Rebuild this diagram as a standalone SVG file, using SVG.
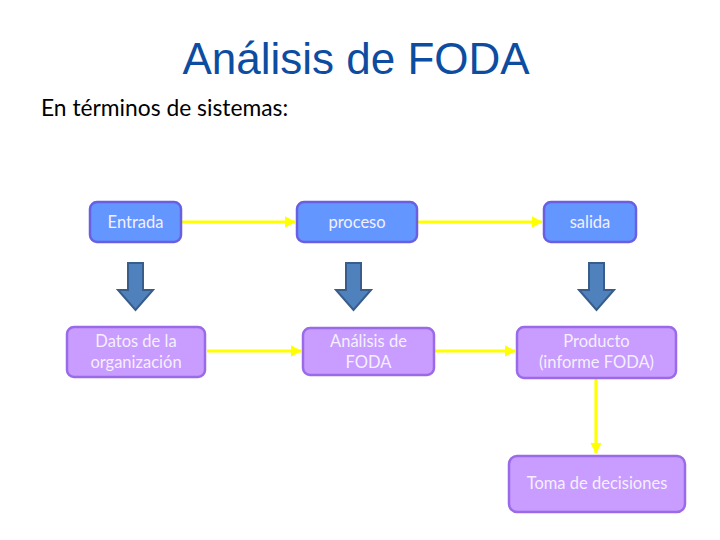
<svg xmlns="http://www.w3.org/2000/svg" width="720" height="540" viewBox="0 0 720 540">
<style>
.title{font-family:"Liberation Sans",Arial,sans-serif;font-size:44px;fill:#0d4da1;text-anchor:middle}
.sub{font-family:Lato,"Open Sans",sans-serif;font-size:22.8px;fill:#000}
.blue{fill:#6496ff;stroke:#6a5fe3;stroke-width:2.5}
.purple{fill:#c99cff;stroke:#9a6ae8;stroke-width:2.5}
.lbl{font-family:Lato,"Open Sans",sans-serif;font-size:16.5px;fill:#f4f0ff;text-anchor:middle}
.big{fill:#4f81bd;stroke:#385d8a;stroke-width:2}
.y{stroke:#ffff00;stroke-width:3.2;fill:none;marker-end:url(#ah)}
</style>
<defs>
<marker id="ah" markerWidth="5" markerHeight="5" refX="3.2" refY="1.8" orient="auto" markerUnits="strokeWidth">
<path d="M0,0 L3.4,1.8 L0,3.6 Z" fill="#ffff00"/>
</marker>
</defs>
<rect width="720" height="540" fill="#fff"/>
<text class="title" x="356" y="74">Análisis de FODA</text>
<text class="sub" x="41" y="116">En términos de sistemas:</text>
<g id="connectors">
<line class="y" x1="182" y1="222" x2="295" y2="222"/>
<line class="y" x1="418" y1="222" x2="542" y2="222"/>
<line class="y" x1="207" y1="351" x2="301" y2="351"/>
<line class="y" x1="435" y1="351" x2="515" y2="351"/>
<line class="y" x1="596" y1="379" x2="596" y2="453"/>
<path class="big" d="M128,263 H143 V290 H153 L135.5,310 L118,290 H128 Z"/>
<path class="big" d="M346,263 H361 V290 H371 L353.5,310 L336,290 H346 Z"/>
<path class="big" d="M589,263 H604 V290 H614 L596.5,310 L579,290 H589 Z"/>
</g>
<g id="entrada">
<rect class="blue" x="90" y="202" width="91" height="40" rx="7"/>
<text class="lbl" x="135.5" y="228">Entrada</text>
</g>
<g id="proceso">
<rect class="blue" x="297" y="202" width="120" height="40" rx="7"/>
<text class="lbl" x="357" y="228">proceso</text>
</g>
<g id="salida">
<rect class="blue" x="544" y="202" width="92" height="40" rx="7"/>
<text class="lbl" x="590" y="228">salida</text>
</g>
<g id="datos">
<rect class="purple" x="67" y="327" width="138" height="50" rx="7"/>
<text class="lbl" x="136" y="347">Datos de la</text>
<text class="lbl" x="136" y="368">organización</text>
</g>
<g id="analisis">
<rect class="purple" x="303" y="328" width="131" height="47" rx="7"/>
<text class="lbl" x="368.5" y="347">Análisis de</text>
<text class="lbl" x="368.5" y="368">FODA</text>
</g>
<g id="producto">
<rect class="purple" x="517" y="327" width="159" height="51" rx="7"/>
<text class="lbl" x="596.5" y="347">Producto</text>
<text class="lbl" x="596.5" y="368">(informe FODA)</text>
</g>
<g id="toma">
<rect class="purple" x="509" y="456" width="176" height="56" rx="8"/>
<text class="lbl" x="597" y="489">Toma de decisiones</text>
</g>
</svg>
